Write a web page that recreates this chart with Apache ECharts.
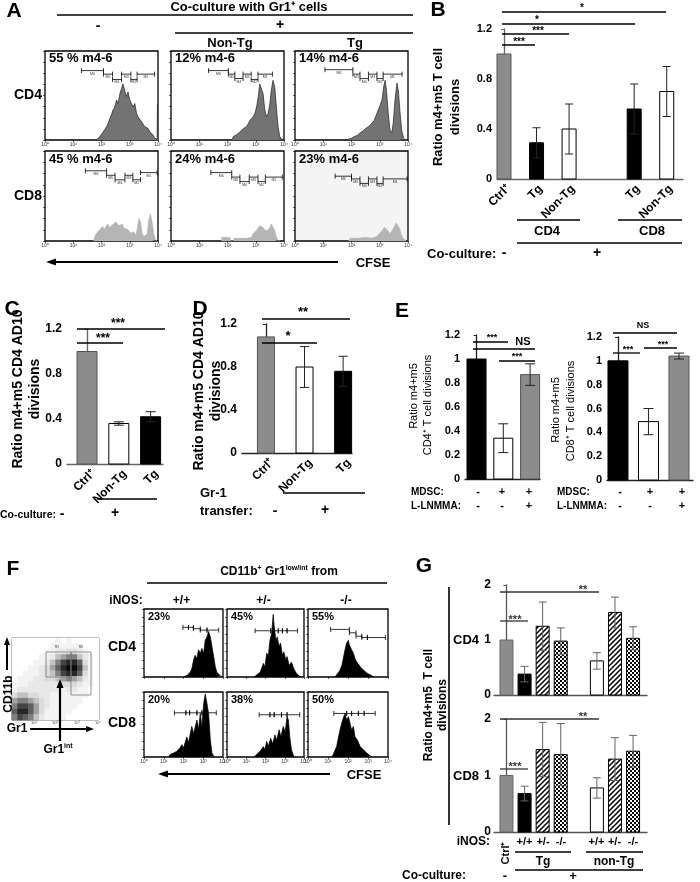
<!DOCTYPE html>
<html lang="en">
<head>
<meta charset="UTF-8">
<title>MDSC figure</title>
<script src="https://cdn.jsdelivr.net/npm/echarts@6/dist/echarts.min.js"></script>
<style>html,body{margin:0;padding:0;background:#fff}#chart{width:700px;height:882px}</style>
</head>
<body>
<div id="chart"></div>
<script>
// ---------------- data ----------------
// CFSE histograms: [log10 CFSE, % of box height]
var decadeTicks = ['10\u2070', '10\u00b9', '10\u00b2', '10\u00b3', '10\u2074'];

var histA_CD4_coNeg = [[1.82,0],[1.88,2],[1.94,4],[2.0,6],[2.06,9],[2.12,11],[2.18,15],[2.24,19],[2.29,24],[2.35,28],[2.41,34],[2.47,37],[2.53,45],[2.59,41],[2.65,52],[2.71,58],[2.76,63],[2.82,56],[2.88,49],[2.94,54],[3.0,45],[3.06,47],[3.12,37],[3.18,41],[3.24,30],[3.29,26],[3.35,28],[3.41,21],[3.47,19],[3.53,15],[3.59,17],[3.65,13],[3.71,9],[3.76,11],[3.82,6],[3.88,2],[3.94,1],[3.97,1],[3.98,40],[4.0,40]];
var histA_CD4_nonTg = [[2.15,0],[2.21,4],[2.27,3],[2.32,6],[2.38,5],[2.44,9],[2.5,8],[2.56,13],[2.62,11],[2.67,15],[2.73,18],[2.79,22],[2.85,20],[2.91,26],[2.97,30],[3.03,37],[3.09,49],[3.14,63],[3.2,65],[3.26,52],[3.32,34],[3.38,26],[3.44,30],[3.5,41],[3.55,56],[3.61,67],[3.67,60],[3.73,37],[3.79,15],[3.85,4],[3.91,1],[3.96,0]];
var histA_CD4_tg = [[1.8,0],[1.9,1],[2.0,2],[2.1,4],[2.2,5],[2.3,8],[2.4,10],[2.5,13],[2.55,11],[2.6,15],[2.7,18],[2.75,16],[2.8,22],[2.9,30],[2.95,28],[3.0,38],[3.08,45],[3.14,60],[3.19,67],[3.24,55],[3.3,30],[3.36,12],[3.43,8],[3.48,20],[3.54,45],[3.61,64],[3.66,55],[3.72,30],[3.78,10],[3.85,2],[3.9,0]];
var histA_CD8_coNeg = [[1.73,0],[1.75,4],[1.81,8],[1.92,12],[2.04,16],[2.1,13],[2.16,14],[2.22,19],[2.28,15],[2.33,16],[2.39,18],[2.45,20],[2.51,21],[2.57,23],[2.62,17],[2.68,18],[2.74,19],[2.8,14],[2.86,16],[2.92,13],[2.97,12],[3.03,9],[3.09,8],[3.15,10],[3.21,6],[3.27,14],[3.32,25],[3.38,21],[3.44,8],[3.5,5],[3.56,4],[3.62,8],[3.67,23],[3.73,30],[3.79,21],[3.85,8],[3.91,1],[3.97,0]];
var histA_CD8_nonTg = [[1.79,0],[1.8,4],[2.09,4],[2.1,0],[2.22,0],[2.23,3],[2.44,3],[2.67,3],[2.85,4],[2.91,8],[3.03,12],[3.14,17],[3.2,19],[3.26,15],[3.32,12],[3.38,10],[3.44,12],[3.5,15],[3.55,19],[3.61,19],[3.67,12],[3.73,4],[3.79,1],[3.85,0]];
var histA_CD8_tg = [[1.9,0],[1.95,3],[2.2,3],[2.5,4],[2.7,3],[2.9,5],[3.0,9],[3.1,12],[3.16,15],[3.22,17],[3.28,12],[3.35,8],[3.45,12],[3.52,16],[3.58,20],[3.63,22],[3.7,14],[3.76,7],[3.82,3],[3.95,0]];

// M6..M1 division gates: [from, to, height]
var gatesA_CD4_coNeg = [[1.29,2.07,78],[2.07,2.39,74],[2.39,2.71,68],[2.71,3.04,74],[3.04,3.26,68],[3.26,3.88,74]];
var gatesA_CD4_nonTg = [[1.33,2.03,78],[2.03,2.26,74],[2.26,2.55,69],[2.55,2.84,74],[2.84,3.08,68],[3.08,3.59,74]];
var gatesA_CD4_tg = [[1.06,2.05,79],[2.05,2.3,74],[2.3,2.6,69],[2.6,2.9,74],[2.9,3.12,69],[3.12,3.79,74]];
var gatesA_CD8_coNeg = [[1.43,2.18,78],[2.18,2.48,73],[2.48,2.83,68],[2.83,3.11,73],[3.11,3.38,68],[3.38,3.97,76]];
var gatesA_CD8_nonTg = [[1.41,2.15,76],[2.15,2.44,71],[2.44,2.77,66],[2.77,3.08,71],[3.08,3.34,66],[3.34,3.94,71]];
var gatesA_CD8_tg = [[1.42,2.0,72],[2.0,2.3,69],[2.3,2.6,64],[2.6,2.9,69],[2.9,3.12,64],[3.12,3.97,69]];
var pctA_CD4 = ['55 % m4-6', '12% m4-6', '14% m4-6'];
var pctA_CD8 = ['45 % m4-6', '24% m4-6', '23% m4-6'];

// B
var bCats = ['Ctrl\u207a', 'Tg', 'Non-Tg', 'Tg', 'Non-Tg'];
var bPos = [0, 1, 2, 4, 5];
var bMean = [1.0, 0.29, 0.40, 0.56, 0.70];
var bErr = [0, 0.12, 0.20, 0.20, 0.20];
// C
var cCats = ['Ctrl\u207a', 'Non-Tg', 'Tg'];
var cMean = [1.0, 0.36, 0.42];
var cErr = [0, 0.015, 0.045];
// D
var dCats = ['Ctrl\u207a', 'Non-Tg', 'Tg'];
var dMean = [1.08, 0.80, 0.76];
var dErr = [0, 0.19, 0.14];
// E
var eMDSC = ['-', '+', '+'];
var eLNMMA = ['-', '-', '+'];
var eCD4Mean = [1.0, 0.34, 0.87];
var eCD4Err = [0, 0.12, 0.09];
var eCD8Mean = [1.0, 0.49, 1.04];
var eCD8Err = [0, 0.11, 0.025];

// F: CD11b vs Gr1 dot plot density (rows top -> bottom, cols left -> right)
var dotDensity = [
  [0,0,0,0,0,0,0,0,1,0,1,0,0,0,0,0],
  [0,0,0,0,0,0,0,1,1,1,1,1,1,0,0,0],
  [0,0,0,0,0,0,1,1,2,2,3,3,2,1,0,0],
  [0,0,0,0,0,1,1,2,4,5,6,6,4,2,1,0],
  [0,0,0,0,1,1,2,4,6,8,9,9,7,3,1,0],
  [0,0,0,1,1,2,3,5,7,9,10,10,8,4,1,0],
  [0,0,1,1,1,2,3,4,6,8,9,9,7,3,1,0],
  [0,1,1,1,2,2,3,3,4,5,6,5,4,2,1,0],
  [1,1,1,2,2,2,2,2,2,3,3,3,2,1,1,0],
  [1,2,2,2,2,2,2,2,2,1,2,2,1,1,0,0],
  [3,4,4,3,3,2,2,1,1,1,1,1,1,1,0,0],
  [5,6,6,5,4,3,2,1,1,1,1,1,1,0,0,0],
  [6,8,8,7,5,3,2,1,1,1,1,1,0,0,0,0],
  [7,9,9,7,5,3,1,1,1,1,1,0,0,0,0,0],
  [6,8,7,6,4,2,1,1,1,1,0,0,0,0,0,0]
];
var histF_CD4_wt = [[2.0,0],[2.08,1],[2.2,3],[2.34,7],[2.42,12],[2.51,25],[2.59,32],[2.68,27],[2.76,40],[2.85,35],[2.93,42],[3.02,35],[3.1,54],[3.19,59],[3.27,67],[3.36,59],[3.44,45],[3.53,30],[3.61,15],[3.69,7],[3.86,2],[3.95,0]];
var histF_CD4_het = [[1.4,0],[1.46,2],[1.72,7],[1.89,20],[1.97,15],[2.06,35],[2.15,32],[2.23,54],[2.32,64],[2.37,82],[2.4,92],[2.45,75],[2.54,54],[2.61,59],[2.7,45],[2.78,50],[2.88,32],[2.95,37],[3.06,25],[3.12,30],[3.23,17],[3.35,22],[3.47,12],[3.61,5],[3.78,1],[3.85,0]];
var histF_CD4_ko = [[1.35,0],[1.43,2],[1.6,10],[1.7,18],[1.76,27],[1.85,40],[1.93,50],[2.02,54],[2.06,48],[2.1,47],[2.18,40],[2.22,42],[2.27,35],[2.35,27],[2.4,29],[2.44,22],[2.52,19],[2.61,15],[2.7,12],[2.77,10],[2.94,6],[3.19,2],[3.3,0]];
var histF_CD8_wt = [[1.25,0],[1.32,4],[1.5,6],[1.66,9],[1.8,13],[1.92,19],[2.0,14],[2.17,31],[2.25,22],[2.42,47],[2.51,36],[2.68,57],[2.76,42],[2.85,67],[2.93,46],[3.02,82],[3.1,97],[3.19,82],[3.27,67],[3.36,26],[3.44,6],[3.53,1],[3.6,0]];
var histF_CD8_het = [[1.4,0],[1.46,2],[1.72,9],[1.89,16],[1.97,11],[2.06,24],[2.15,17],[2.27,29],[2.37,20],[2.49,34],[2.58,26],[2.71,42],[2.8,31],[2.92,47],[3.02,39],[3.12,62],[3.19,57],[3.26,31],[3.35,11],[3.43,4],[3.5,0]];
var histF_CD8_ko = [[1.2,0],[1.26,4],[1.43,16],[1.6,42],[1.73,57],[1.85,67],[1.93,57],[2.02,62],[2.1,52],[2.18,42],[2.27,47],[2.35,31],[2.47,26],[2.61,16],[2.77,11],[2.94,6],[3.11,2],[3.2,0]];
var gatesF_CD4_wt = [[1.97,2.25,73],[2.25,2.5,73],[2.5,2.85,71],[2.85,3.19,69],[3.19,3.78,69]];
var gatesF_CD4_het = [[1.46,2.27,68],[2.27,2.44,68],[2.44,2.66,68],[2.66,2.88,68],[2.88,3.12,68],[3.12,3.66,68]];
var gatesF_CD4_ko = [[1.13,2.07,70],[2.07,2.4,65],[2.4,2.69,60],[2.69,2.97,58],[2.97,3.87,58]];
var gatesF_CD8_wt = [[1.54,2.12,68],[2.12,2.31,68],[2.31,2.68,68],[2.68,2.93,68],[2.93,3.66,68]];
var gatesF_CD8_het = [[1.67,2.23,65],[2.23,2.45,65],[2.45,2.83,65],[2.83,3.12,65],[3.12,3.78,65]];
var gatesF_CD8_ko = [[1.29,1.93,67],[1.93,2.18,67],[2.18,2.52,67],[2.52,2.81,67],[2.81,3.36,67]];
var iNOS = ['+/+', '+/-', '-/-'];
var pctF_CD4 = ['23%', '45%', '55%'];
var pctF_CD8 = ['20%', '38%', '50%'];

// G
var gNOS = ['', '+/+', '+/-', '-/-', '+/+', '+/-', '-/-'];
var gPos = [0, 1, 2, 3, 5, 6, 7];
var gCD4Mean = [1.0, 0.38, 1.25, 0.98, 0.62, 1.50, 1.03];
var gCD4Err = [0, 0.14, 0.44, 0.24, 0.15, 0.28, 0.21];
var gCD8Mean = [1.0, 0.68, 1.46, 1.37, 0.78, 1.29, 1.43];
var gCD8Err = [0, 0.13, 0.48, 0.55, 0.18, 0.38, 0.28];

// ---------------- layout ----------------
var FF = '"Liberation Sans", Arial, Helvetica, sans-serif';
var chart = echarts.init(document.getElementById('chart'), null, {renderer: 'canvas'});
var option = {animation: false, backgroundColor: '#fff', grid: [], xAxis: [], yAxis: [], series: [], graphic: [], visualMap: []};
var G = option.graphic;

function text(x, y, s, o) {
    o = o || {};
    G.push({type: 'text', x: x, y: y, rotation: o.rot || 0, z: 100, style: {
        text: s, fill: o.color || '#000', fontSize: o.size || 12, fontWeight: o.weight || 'bold',
        fontFamily: FF, align: o.align || 'center', verticalAlign: o.va || 'middle', rich: o.rich
    }});
}
function line(x1, y1, x2, y2, w, c) {
    G.push({type: 'line', z: 100, shape: {x1: x1, y1: y1, x2: x2, y2: y2}, style: {stroke: c || '#000', lineWidth: w || 1.5}});
}
function arrow(x1, y1, x2, y2, w, len, wid) {
    var dx = x2 - x1, dy = y2 - y1, L = Math.sqrt(dx * dx + dy * dy);
    dx /= L; dy /= L;
    var bx = x2 - dx * len, by = y2 - dy * len;
    line(x1, y1, bx, by, w);
    G.push({type: 'polygon', z: 100, shape: {points: [[x2, y2], [bx - dy * wid / 2, by + dx * wid / 2], [bx + dy * wid / 2, by - dx * wid / 2]]}, style: {fill: '#000'}});
}
function sig(list, size, color) {
    list.forEach(function (s) {
        line(s[0], s[2], s[1], s[2], 1.3, color || '#000');
        if (s[3]) text(s[4], s[5], s[3], {size: size, color: color || '#000'});
    });
}

function gateRender(withLabels) {
    return function (params, api) {
        var a = api.coord([api.value(0), api.value(2)]);
        var b = api.coord([api.value(1), api.value(2)]);
        var st = {stroke: '#000', lineWidth: 0.8};
        var kids = [
            {type: 'line', shape: {x1: a[0], y1: a[1], x2: b[0], y2: b[1]}, style: st},
            {type: 'line', shape: {x1: a[0], y1: a[1] - 2.5, x2: a[0], y2: a[1] + 2.5}, style: st},
            {type: 'line', shape: {x1: b[0], y1: b[1] - 2.5, x2: b[0], y2: b[1] + 2.5}, style: st}
        ];
        if (withLabels) {
            kids.push({type: 'text', x: (a[0] + b[0]) / 2, y: a[1] + 3, style: {text: 'M' + (6 - params.dataIndex), fontSize: 3.5, fill: '#333', align: 'center', verticalAlign: 'middle', fontFamily: FF}});
        }
        return {type: 'group', children: kids};
    };
}

function histPanel(box, data, fill, stroke, gates, showTicks, withLabels, bg) {
    var gi = option.grid.length;
    option.grid.push({show: true, left: box[0], top: box[1], width: box[2] - box[0], height: box[3] - box[1],
        borderColor: '#000', borderWidth: 1.3, backgroundColor: bg || 'transparent'});
    option.xAxis.push({gridIndex: gi, type: 'value', min: 0, max: 4, interval: 1,
        axisLine: {show: false}, axisTick: {show: true, length: 2, lineStyle: {color: '#000', width: 0.6}},
        axisLabel: {show: showTicks, fontSize: 5, color: '#333', margin: 2, fontFamily: FF, formatter: function (v) { return decadeTicks[v]; }},
        splitLine: {show: false}});
    option.yAxis.push({gridIndex: gi, type: 'value', min: 0, max: 100, interval: 12.5,
        axisLine: {show: false}, axisTick: {show: true, length: 2, lineStyle: {color: '#000', width: 0.6}},
        axisLabel: {show: false}, splitLine: {show: false}});
    option.series.push({type: 'line', xAxisIndex: gi, yAxisIndex: gi, data: data, symbol: 'none', silent: true,
        lineStyle: {color: stroke, width: 0.7}, areaStyle: {color: fill, opacity: 1}});
    option.series.push({type: 'custom', xAxisIndex: gi, yAxisIndex: gi, data: gates, encode: {x: [0, 1], y: 2},
        renderItem: gateRender(withLabels), silent: true});
}

function barPanel(c) {
    var gi = option.grid.length;
    option.grid.push({left: c.left, top: c.top, width: c.width, height: c.height});
    option.xAxis.push({gridIndex: gi, type: 'value', min: c.xMin, max: c.xMax,
        axisLine: {show: true, onZero: false, lineStyle: {color: c.axisColor, width: 1.3}}, axisTick: {show: false},
        axisLabel: {show: false}, splitLine: {show: false}});
    option.yAxis.push({gridIndex: gi, type: 'value', min: 0, max: c.yMax, interval: c.interval,
        axisLine: {show: true, lineStyle: {color: c.axisColor, width: 1.3}},
        axisTick: {show: true, length: 3, lineStyle: {color: c.axisColor, width: 1}},
        axisLabel: {fontSize: c.tickSize, fontWeight: 'bold', color: '#000', margin: c.margin || 5, fontFamily: FF, formatter: c.fmt},
        splitLine: {show: false}});
    var data = c.pos.map(function (p, i) { return [p, c.mean[i], c.err[i]]; });
    option.series.push({type: 'custom', xAxisIndex: gi, yAxisIndex: gi, data: data, encode: {x: 0, y: 1}, clip: false, silent: true,
        renderItem: function (params, api) {
            var i = params.dataIndex;
            var x = api.value(0), v = api.value(1), e = api.value(2);
            var b = api.coord([x, 0]), t = api.coord([x, v]);
            var hw = c.barW / 2;
            var kids = [{type: 'rect', shape: {x: b[0] - hw, y: t[1], width: c.barW, height: b[1] - t[1]},
                style: {fill: c.fills[i], stroke: c.strokes[i], lineWidth: 1}}];
            if (e > 0) {
                var hi = api.coord([x, v + e]), lo = api.coord([x, v - e]), cw = c.capW / 2;
                var es = {stroke: c.errColor, lineWidth: 1};
                kids.push({type: 'line', shape: {x1: b[0], y1: lo[1], x2: b[0], y2: hi[1]}, style: es});
                kids.push({type: 'line', shape: {x1: b[0] - cw, y1: hi[1], x2: b[0] + cw, y2: hi[1]}, style: es});
                kids.push({type: 'line', shape: {x1: b[0] - cw, y1: lo[1], x2: b[0] + cw, y2: lo[1]}, style: es});
            }
            if (c.labels) {
                kids.push({type: 'text', x: b[0] + c.lblDx, y: b[1] + c.lblDy, rotation: Math.PI / 4,
                    style: {text: c.labels[i], fontSize: c.lblSize, fontWeight: 'bold', fontFamily: FF, fill: '#000', align: 'right', verticalAlign: 'middle'}});
            }
            return {type: 'group', children: kids};
        }});
}

function fmt1(v) { return v === 0 ? '0' : v.toFixed(1); }
function fmtE(v) { return (v === 0 || v === 1) ? String(v) : v.toFixed(1); }
function fmtI(v) { return String(Math.round(v)); }

function pattern(kind) {
    var cv = document.createElement('canvas');
    var g = cv.getContext('2d');
    if (kind === 'hatch') {
        cv.width = 5; cv.height = 5;
        g.fillStyle = '#fff'; g.fillRect(0, 0, 5, 5);
        g.strokeStyle = '#000'; g.lineWidth = 1.5;
        g.beginPath();
        g.moveTo(-1, 6); g.lineTo(6, -1);
        g.moveTo(-1, 1); g.lineTo(1, -1);
        g.moveTo(4, 6); g.lineTo(6, 4);
        g.stroke();
    } else {
        cv.width = 4; cv.height = 4;
        g.fillStyle = '#fff'; g.fillRect(0, 0, 4, 4);
        g.fillStyle = '#000'; g.fillRect(0, 0, 2, 2); g.fillRect(2, 2, 2, 2);
    }
    return {image: cv, repeat: 'repeat'};
}

// ---- Panel A ----
text(14, 11, 'A', {size: 21});
text(249, 7, 'Co-culture with Gr1\u207a cells', {size: 13});
line(57, 15, 413, 15, 1.5);
text(98, 26, '-', {size: 14});
text(280, 25, '+', {size: 14});
line(175, 33, 413, 33, 1.5);
text(230, 43, 'Non-Tg', {size: 13});
text(355, 43, 'Tg', {size: 13});
text(28, 95, 'CD4', {size: 14});
text(28, 196, 'CD8', {size: 14});
var aCols = [[45, 158], [171, 284], [295, 408]];
var aHistCD4 = [histA_CD4_coNeg, histA_CD4_nonTg, histA_CD4_tg];
var aHistCD8 = [histA_CD8_coNeg, histA_CD8_nonTg, histA_CD8_tg];
var aGateCD4 = [gatesA_CD4_coNeg, gatesA_CD4_nonTg, gatesA_CD4_tg];
var aGateCD8 = [gatesA_CD8_coNeg, gatesA_CD8_nonTg, gatesA_CD8_tg];
aCols.forEach(function (cx, i) {
    histPanel([cx[0], 51, cx[1], 140], aHistCD4[i], '#737373', '#222', aGateCD4[i], true, true);
    histPanel([cx[0], 151, cx[1], 241], aHistCD8[i], '#b5b5b5', '#b5b5b5', aGateCD8[i], true, true, i === 2 ? '#f4f4f4' : null);
    text(cx[0] + 4, 58, pctA_CD4[i], {size: 13, align: 'left'});
    text(cx[0] + 4, 159, pctA_CD8[i], {size: 13, align: 'left'});
});
arrow(338, 262, 46, 262, 2, 10, 7);
text(373, 263, 'CFSE', {size: 13});

// ---- Panel B ----
text(438, 10, 'B', {size: 21});
barPanel({left: 497, top: 29, width: 186, height: 150, xMin: -0.215, xMax: 5.5, yMax: 1.2, interval: 0.4,
    pos: bPos, mean: bMean, err: bErr, fills: ['#8c8c8c', '#000', '#fff', '#000', '#fff'], strokes: ['#555', '#000', '#000', '#000', '#000'],
    barW: 14, capW: 8, errColor: '#222', axisColor: '#666', tickSize: 11, fmt: fmt1,
    labels: bCats, lblDx: 4, lblDy: 8, lblSize: 12});
text(438, 107, 'Ratio m4+m5 T cell', {size: 13, rot: Math.PI / 2});
text(455, 107, 'divisions', {size: 13, rot: Math.PI / 2});
sig([[502, 535, 45, '***', 519, 42], [502, 569, 34, '***', 538, 31], [502, 635, 24, '*', 537, 20], [502, 666, 12, '*', 582, 8]], 10);
line(517, 220, 580, 220, 1.5); text(547, 231, 'CD4', {size: 13});
line(618, 220, 682, 220, 1.5); text(652, 231, 'CD8', {size: 13});
line(517, 243, 682, 243, 1.5); text(597, 253, '+', {size: 14});
text(427, 254, 'Co-culture:', {size: 13, align: 'left'});
text(504, 253, '-', {size: 14});

// ---- Panel C ----
text(12, 309, 'C', {size: 21});
barPanel({left: 67, top: 329, width: 96, height: 135, xMin: -0.63, xMax: 2.39, yMax: 1.2, interval: 0.4,
    pos: [0, 1, 2], mean: cMean, err: cErr, fills: ['#8c8c8c', '#fff', '#000'], strokes: ['#555', '#000', '#000'],
    barW: 20, capW: 10, errColor: '#222', axisColor: '#666', tickSize: 12, fmt: fmt1,
    labels: cCats, lblDx: 6, lblDy: 8, lblSize: 12});
text(18, 389, 'Ratio m4+m5 CD4 AD10', {size: 14, rot: Math.PI / 2});
text(35, 389, 'divisions', {size: 14, rot: Math.PI / 2});
sig([[77, 123, 343, '***', 103, 339], [77, 165, 329, '***', 118, 324]], 12);
line(97, 499, 157, 499, 1.5);
text(0, 515, 'Co-culture:', {size: 10.5, align: 'left'});
text(62, 514, '-', {size: 14});
text(115, 513, '+', {size: 14});

// ---- Panel D ----
text(200, 309, 'D', {size: 21});
barPanel({left: 242, top: 324, width: 110, height: 129, xMin: -0.62, xMax: 2.23, yMax: 1.2, interval: 0.4,
    pos: [0, 1, 2], mean: dMean, err: dErr, fills: ['#8c8c8c', '#fff', '#000'], strokes: ['#555', '#000', '#000'],
    barW: 17, capW: 9, errColor: '#222', axisColor: '#222', tickSize: 12, fmt: fmt1,
    labels: dCats, lblDx: 6, lblDy: 8, lblSize: 12});
text(199, 391, 'Ratio m4+m5 CD4 AD10', {size: 14, rot: Math.PI / 2});
text(216, 391, 'divisions', {size: 14, rot: Math.PI / 2});
sig([[262, 317, 343, '*', 288, 336], [262, 350, 319, '**', 303, 312]], 13);
line(283, 493, 365, 493, 1.5);
text(200, 493, 'Gr-1', {size: 13, align: 'left'});
text(200, 511, 'transfer:', {size: 13, align: 'left'});
text(275, 511, '-', {size: 14});
text(325, 510, '+', {size: 14});

// ---- Panel E ----
text(402, 311, 'E', {size: 21});
barPanel({left: 465, top: 335, width: 75, height: 144, xMin: -0.43, xMax: 2.37, yMax: 1.2, interval: 0.2,
    pos: [0, 1, 2], mean: eCD4Mean, err: eCD4Err, fills: ['#000', '#fff', '#8c8c8c'], strokes: ['#000', '#000', '#555'],
    barW: 19, capW: 10, errColor: '#222', axisColor: '#222', tickSize: 11, fmt: fmtE});
barPanel({left: 607, top: 337, width: 86, height: 143, xMin: -0.36, xMax: 2.46, yMax: 1.2, interval: 0.2,
    pos: [0, 1, 2], mean: eCD8Mean, err: eCD8Err, fills: ['#000', '#fff', '#8c8c8c'], strokes: ['#000', '#000', '#555'],
    barW: 20, capW: 10, errColor: '#222', axisColor: '#222', tickSize: 11, fmt: fmtE});
text(414, 396, 'Ratio m4+m5', {size: 11, weight: 'normal', rot: Math.PI / 2});
text(428, 405, 'CD4\u207a T cell divisions', {size: 11, weight: 'normal', rot: Math.PI / 2});
text(556, 410, 'Ratio m4+m5', {size: 11, weight: 'normal', rot: Math.PI / 2});
text(571, 411, 'CD8\u207a T cell divisions', {size: 11, weight: 'normal', rot: Math.PI / 2});
sig([[473, 508, 342, '***', 492, 338], [473, 535, 349, '', 0, 0], [499, 535, 361, '***', 517, 357],
     [613, 677, 333, 'NS', 643, 326], [613, 640, 353, '***', 628, 350], [644, 677, 348, '***', 663, 345]], 9);
text(523, 342, 'NS', {size: 11});
var eLeftX = [478, 502, 529], eRightX = [620, 650, 682];
text(411, 492, 'MDSC:', {size: 10, align: 'left'});
text(411, 506, 'L-LNMMA:', {size: 10, align: 'left'});
text(557, 492, 'MDSC:', {size: 10, align: 'left'});
text(557, 506, 'L-LNMMA:', {size: 10, align: 'left'});
eMDSC.forEach(function (s, i) { text(eLeftX[i], 492, s, {size: 11}); text(eRightX[i], 492, s, {size: 11}); });
eLNMMA.forEach(function (s, i) { text(eLeftX[i], 506, s, {size: 11}); text(eRightX[i], 506, s, {size: 11}); });

// ---- Panel F ----
text(13, 569, 'F', {size: 21});
text(279, 572, 'CD11b{s|+} Gr1{s|low/int} from', {size: 12, rich: {s: {fontSize: 7, fontWeight: 'bold', fontFamily: FF, verticalAlign: 'top', lineHeight: 14}}});
line(147, 583, 387, 583, 1.5);
text(126, 601, 'iNOS:', {size: 12});
var fCols = [[144, 223], [227, 304], [308, 388]];
var fHistCD4 = [histF_CD4_wt, histF_CD4_het, histF_CD4_ko];
var fHistCD8 = [histF_CD8_wt, histF_CD8_het, histF_CD8_ko];
var fGateCD4 = [gatesF_CD4_wt, gatesF_CD4_het, gatesF_CD4_ko];
var fGateCD8 = [gatesF_CD8_wt, gatesF_CD8_het, gatesF_CD8_ko];
fCols.forEach(function (cx, i) {
    text((cx[0] + cx[1]) / 2 - 2, 601, iNOS[i], {size: 12});
    histPanel([cx[0], 609, cx[1], 677], fHistCD4[i], '#000', '#000', fGateCD4[i], false, false);
    histPanel([cx[0], 692, cx[1], 757], fHistCD8[i], '#000', '#000', fGateCD8[i], true, false);
    text(cx[0] + 4, 617, pctF_CD4[i], {size: 11, align: 'left'});
    text(cx[0] + 4, 700, pctF_CD8[i], {size: 11, align: 'left'});
});
text(122, 647, 'CD4', {size: 14});
text(122, 723, 'CD8', {size: 14});
arrow(330, 774, 158, 774, 2, 10, 7);
text(364, 775, 'CFSE', {size: 13});

// dot plot as density cells
(function () {
    var gi = option.grid.length;
    var nR = dotDensity.length;
    option.grid.push({show: true, left: 12, top: 638, width: 87, height: 82, borderColor: '#555', borderWidth: 1});
    option.xAxis.push({gridIndex: gi, type: 'category', data: dotDensity[0].map(function (_, i) { return i; }), show: false});
    option.yAxis.push({gridIndex: gi, type: 'category', data: dotDensity.map(function (_, i) { return i; }), show: false});
    var cells = [];
    dotDensity.forEach(function (row, r) { row.forEach(function (v, c) { cells.push([c, nR - 1 - r, v]); }); });
    option.visualMap.push({type: 'continuous', show: false, seriesIndex: option.series.length, min: 0, max: 10,
        inRange: {color: ['#ffffff', '#d8d8d8', '#6a6a6a', '#0a0a0a']}});
    option.series.push({type: 'heatmap', xAxisIndex: gi, yAxisIndex: gi, data: cells, silent: true, itemStyle: {borderWidth: 0}});
})();
G.push({type: 'rect', z: 100, shape: {x: 46, y: 652, width: 25, height: 25}, style: {fill: 'none', stroke: '#777', lineWidth: 0.8}});
G.push({type: 'rect', z: 100, shape: {x: 71, y: 652, width: 20, height: 43}, style: {fill: 'none', stroke: '#777', lineWidth: 0.8}});
text(57, 647, 'R5', {size: 3.5, weight: 'normal', color: '#444'});
text(81, 647, 'R6', {size: 3.5, weight: 'normal', color: '#444'});
[[34, 1], [55, 2], [77, 3], [98, 4]].forEach(function (t) { text(t[0], 723, decadeTicks[t[1]], {size: 4, weight: 'normal', color: '#444'}); });
arrow(7, 670, 7, 637, 2, 8, 6);
text(9, 694, 'CD11b', {size: 12, rot: Math.PI / 2});
text(17, 729, 'Gr1', {size: 12});
arrow(30, 729, 94, 729, 2, 8, 6);
arrow(60, 741, 60, 679, 2.2, 9, 7);
text(58, 750, 'Gr1{s|int}', {size: 12, rich: {s: {fontSize: 7, fontWeight: 'bold', fontFamily: FF, verticalAlign: 'top', lineHeight: 14}}});

// ---- Panel G ----
text(424, 566, 'G', {size: 21});
line(449, 587, 449, 825, 1.6);
text(429, 705, 'Ratio m4+m5  T cell', {size: 12, rot: Math.PI / 2});
text(443, 705, 'divisions', {size: 12, rot: Math.PI / 2});
text(466, 640, 'CD4', {size: 13});
text(466, 776, 'CD8', {size: 13});
var hatch = pattern('hatch'), checker = pattern('checker');
var gFills = ['#8c8c8c', '#000', hatch, checker, '#fff', hatch, checker];
var gStrokes = ['#666', '#000', '#000', '#000', '#000', '#000', '#000'];
barPanel({left: 494, top: 585, width: 153, height: 110, xMin: -0.69, xMax: 7.77, yMax: 2, interval: 1,
    pos: gPos, mean: gCD4Mean, err: gCD4Err, fills: gFills, strokes: gStrokes,
    barW: 13, capW: 8, errColor: '#666', axisColor: '#555', tickSize: 12, fmt: fmtI, margin: 3});
barPanel({left: 494, top: 719, width: 153, height: 113, xMin: -0.69, xMax: 7.77, yMax: 2, interval: 1,
    pos: gPos, mean: gCD8Mean, err: gCD8Err, fills: gFills, strokes: gStrokes,
    barW: 13, capW: 8, errColor: '#666', axisColor: '#555', tickSize: 12, fmt: fmtI, margin: 3});
sig([[500, 599, 592, '**', 583, 590], [500, 528, 621, '***', 515, 620], [500, 599, 719, '**', 583, 717], [500, 528, 769, '***', 515, 767]], 11, '#333');
text(490, 842, 'iNOS:', {size: 12, align: 'right'});
var gCx = [506.5, 524.5, 543, 561, 596.5, 614.5, 633];
gNOS.forEach(function (s, i) { if (s) text(gCx[i], 842, s, {size: 11}); });
text(506, 853, 'Ctrl\u207a', {size: 11, rot: Math.PI / 2});
line(515, 852, 571, 852, 1.3); text(543, 862, 'Tg', {size: 12});
line(586, 852, 643, 852, 1.3); text(614, 862, 'non-Tg', {size: 12});
line(515, 870, 643, 870, 1.3);
text(402, 876, 'Co-culture:', {size: 12, align: 'left'});
text(505, 876, '-', {size: 13});
text(573, 876, '+', {size: 13});

chart.setOption(option);
</script>
</body>
</html>
